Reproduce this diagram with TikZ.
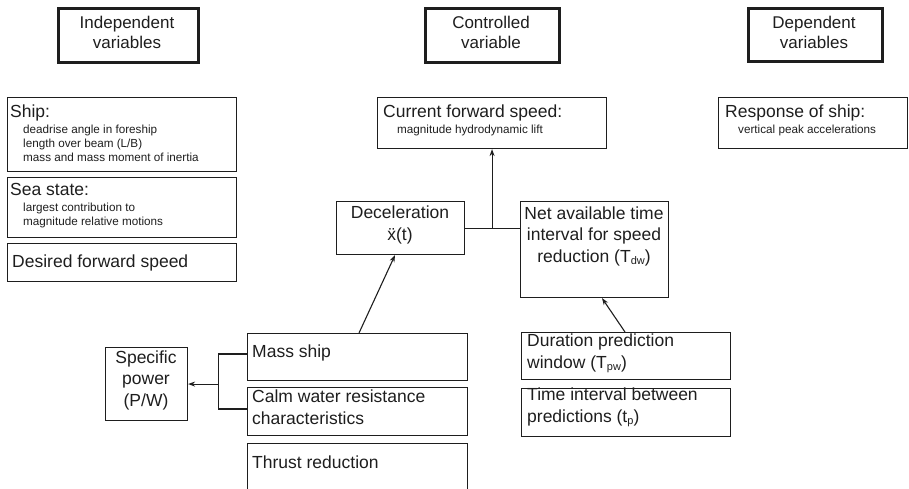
\documentclass[tikz,border=0pt]{standalone}
\usepackage{fontspec}
\setmainfont{Liberation Sans}
\usetikzlibrary{arrows.meta,calc}
\definecolor{ink}{HTML}{1E1E1E}
\newcommand{\mainfs}{\fontsize{17.5}{21.5}\selectfont}
\newcommand{\subfs}{\fontsize{11.7}{14}\selectfont}
\newcommand{\hdrfs}{\fontsize{17}{20}\selectfont}
\newcommand{\sbs}[1]{\raisebox{-0.12em}{\fontsize{11}{11}\selectfont #1}}
\begin{document}
\begin{tikzpicture}[x=1pt,y=-1pt,
  box/.style={draw=ink,line width=1.1pt,inner sep=0pt,anchor=north west},
  hbox/.style={draw=ink,line width=2.6pt,inner sep=0pt,anchor=north west},
  mtxt/.style={text=ink,font=\mainfs,inner sep=0pt,anchor=base west,align=left},
  ctxt/.style={text=ink,font=\mainfs,inner sep=0pt,anchor=base,align=center},
  htxt/.style={text=ink,font=\hdrfs,inner sep=0pt,anchor=base,align=center},
  stxt/.style={text=ink,font=\subfs,inner sep=0pt,anchor=base west,align=left},
  conn/.style={draw=ink,line width=1.1pt},
  arr/.style={conn,-{Stealth[length=7pt,width=5pt]}}]
\useasboundingbox (0,0) rectangle (909,488);
\clip (0,0) rectangle (909,488);
% header boxes (multi-line text nodes are placed at the baseline of their last line)
\node[hbox,minimum width=140pt,minimum height=54pt] (hind) at (57,7) {};
\node[hbox,minimum width=134pt,minimum height=54pt] (hcon) at (424,7) {};
\node[hbox,minimum width=134pt,minimum height=53pt] (hdep) at (747,7) {};
\node[htxt] (thind) at (127,48) {Independent\\variables};
\node[htxt] (thcon) at (491,48) {Controlled\\variable};
\node[htxt] (thdep) at (814,48) {Dependent\\variables};
% left column
\node[box,minimum width=229pt,minimum height=74pt] (ship) at (7,97) {};
\node[mtxt] (tship) at (10,117) {Ship:};
\node[stxt] (tship2) at (23,161) {deadrise angle in foreship\\length over beam (L/B)\\mass and mass moment of inertia};
\node[box,minimum width=229pt,minimum height=60pt] (sea) at (7,177) {};
\node[mtxt] (tsea) at (10,195) {Sea state:};
\node[stxt] (tsea2) at (23,225) {largest contribution to\\magnitude relative motions};
\node[box,minimum width=229pt,minimum height=38pt] (des) at (7,243) {};
\node[mtxt] (tdes) at (12,267) {Desired forward speed};
% middle
\node[box,minimum width=229pt,minimum height=51pt] (cur) at (377,97) {};
\node[mtxt] (tcur) at (383,117) {Current forward speed:};
\node[stxt] (tcur2) at (397,133) {magnitude hydrodynamic lift};
\node[box,minimum width=128pt,minimum height=53pt] (dec) at (336,201) {};
\node[ctxt] (tdec) at (400,240) {Deceleration\\\"{x}(t)};
\node[box,minimum width=148pt,minimum height=96pt] (net) at (520,201) {};
\node[ctxt] (tnet) at (594,262) {Net available time\\interval for speed\\reduction (T\sbs{dw})};
% right
\node[box,minimum width=189pt,minimum height=51pt] (resp) at (718,97) {};
\node[mtxt] (tresp) at (725,117) {Response of ship:};
\node[stxt] (tresp2) at (738,133) {vertical peak accelerations};
% lower
\node[box,minimum width=82pt,minimum height=73pt] (spec) at (105,347) {};
\node[ctxt] (tspec) at (146,406) {Specific\\power\\(P/W)};
\node[box,minimum width=220pt,minimum height=47pt] (mass) at (247,333) {};
\node[mtxt] (tmass) at (252,357) {Mass ship};
\node[box,minimum width=220pt,minimum height=48pt] (calm) at (247,387) {};
\node[mtxt] (tcalm) at (252,424) {Calm water resistance\\characteristics};
\node[box,minimum width=220pt,minimum height=60pt] (thr) at (247,443) {};
\node[mtxt] (tthr) at (252,468) {Thrust reduction};
\node[box,minimum width=209pt,minimum height=47pt] (dur) at (521,332) {};
\node[mtxt] (tdur) at (527,368) {Duration prediction\\window (T\sbs{pw})};
\node[box,minimum width=209pt,minimum height=48pt] (tim) at (521,388) {};
\node[mtxt] (ttim) at (527,422) {Time interval between\\predictions (t\sbs{p})};
% connectors
\draw[conn] (dec.east) -- (dec.east -| net.west);
\draw[arr] (dec.east -| cur.south) -- (cur.south);
\draw[arr] ($(mass.north west)+(112,0)$) -- ($(dec.south west)+(59,0)$);
\draw[arr] ($(dur.north west)+(104,0)$) -- ($(net.south west)+(82,0)$);
\draw[conn] ($(mass.north west)+(0,21)$) -| ($(spec.east)+(30,0)$) |- ($(calm.north west)+(0,22)$);
\draw[arr] ($(spec.east)+(30,0)$) -- (spec.east);
\end{tikzpicture}
\end{document}
